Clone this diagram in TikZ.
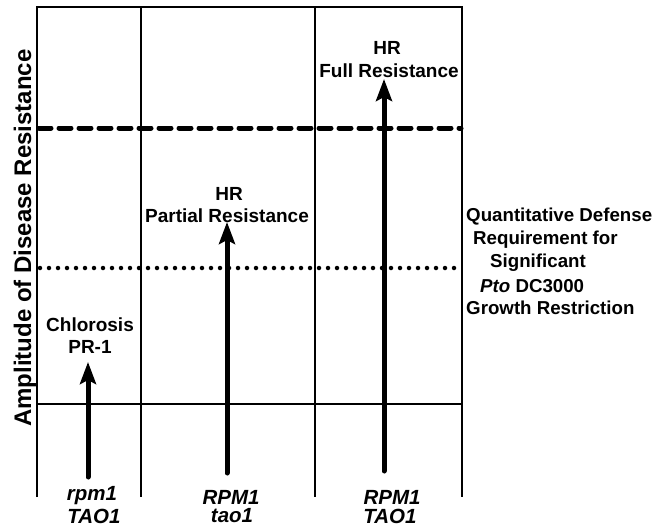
\documentclass[tikz,border=0pt]{standalone}
\usepackage{fontspec}
\setmainfont{Liberation Sans}
\usetikzlibrary{arrows.meta}
\tikzset{
  frame/.style={line width=1.4pt},
  thickdash/.style={line width=5pt, dash pattern=on 12pt off 8pt, line cap=round},
  thickdot/.style={line width=4.5pt, dash pattern=on 0pt off 9pt, line cap=round},
  bigarrow/.style={line width=5pt, line cap=round, -{Stealth[length=22pt,width=16pt,inset=4pt]}},
  lbl/.style={font=\fontsize{19}{22}\selectfont\bfseries, inner sep=0pt, align=center},
  rlbl/.style={font=\fontsize{18.7}{22}\selectfont\bfseries, inner sep=0pt, anchor=west},
  glbl/.style={font=\fontsize{20.5}{20}\selectfont\bfseries\itshape, inner sep=0pt},
  ylbl/.style={font=\fontsize{24}{24}\selectfont\bfseries, inner sep=0pt, rotate=90}
}
\begin{document}
\begin{tikzpicture}[x=1pt,y=-1pt]
\useasboundingbox (0,0) rectangle (663,531);
% frame
\coordinate (tl) at (37,7);
\coordinate (tr) at (462,7);
\draw[frame] (37,497) -- (tl) -- (tr) -- (462,497);
\draw[frame] (141,7) -- (141,497);
\draw[frame] (315,7) -- (315,497);
\draw[frame] (37,404) -- (462,404);
% threshold lines
\coordinate (dL) at (39,128);
\coordinate (dR) at (461,128);
\draw[thickdash] (dL) -- (dR);
\coordinate (oL) at (40,268);
\coordinate (oR) at (461,268);
\draw[thickdot] (oL) -- (oR);
% arrows
\coordinate (a1b) at (88,477);
\coordinate (a1t) at (88,362);
\coordinate (a2b) at (227,473);
\coordinate (a2t) at (227,222);
\coordinate (a3b) at (384,471);
\coordinate (a3t) at (384,79);
\draw[bigarrow] (a1b) -- (a1t);
\draw[bigarrow] (a2b) -- (a2t);
\draw[bigarrow] (a3b) -- (a3t);
% labels
\node[lbl] (chl) at (90,325) {Chlorosis};
\node[lbl] (pr) at (90,347) {PR-1};
\node[lbl] (hr2) at (229,194) {HR};
\node[lbl] (pres) at (227,216) {Partial Resistance};
\node[lbl] (hr3) at (387,48) {HR};
\node[lbl] (fres) at (389,71) {Full Resistance};
% right text
\node[rlbl] (q1) at (466,217) {Quantitative Defense};
\node[rlbl] (q2) at (473,240) {Requirement for};
\node[rlbl] (q3) at (490,263) {Significant};
\node[rlbl] (q4) at (480,286) {\textit{Pto} DC3000};
\node[rlbl] (q5) at (466,308) {Growth Restriction};
% genotypes
\node[glbl] (g1a) at (92,496) {rpm1};
\node[glbl] (g1b) at (94,516) {TAO1};
\node[glbl] (g2a) at (231,497) {RPM1};
\node[glbl] (g2b) at (232,516) {tao1};
\node[glbl] (g3a) at (392,497) {RPM1};
\node[glbl] (g3b) at (390,516) {TAO1};
% y label
\node[ylbl] (yl) at (25,238) {Amplitude of Disease Resistance};
\end{tikzpicture}
\end{document}
